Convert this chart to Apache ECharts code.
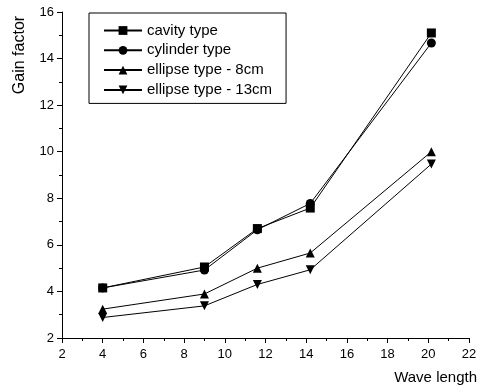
<!DOCTYPE html>
<html>
<head>
<meta charset="utf-8">
<script src="https://cdn.jsdelivr.net/npm/echarts@6/dist/echarts.min.js"></script>
<style>
  html, body { margin: 0; padding: 0; background: #fff; }
  #chart { width: 483px; height: 392px; }
</style>
</head>
<body>
<div id="chart"></div>
<script>
// data
const waveLength = [4, 9, 11.6, 14.2, 20.15];
const cavity = [4.15, 5.05, 6.7, 7.58, 15.1];
const cylinder = [4.15, 4.92, 6.65, 7.78, 14.67];
const ellipse8 = [3.24, 3.89, 5.0, 5.65, 10.0];
const ellipse13 = [2.88, 3.38, 4.3, 4.93, 9.47];

const FONT = "Liberation Sans";

function pairs(ys) {
  return waveLength.map((x, i) => [x, ys[i]]);
}

function makeSeries(name, ys, symbol, rotate) {
  return {
    name: name,
    type: "line",
    data: pairs(ys),
    symbol: symbol,
    symbolSize: 9,
    symbolRotate: rotate || 0,
    lineStyle: { color: "#000", width: 1 },
    itemStyle: { color: "#000" },
    animation: false,
  };
}

const chart = echarts.init(document.getElementById("chart"));

const axisCommon = {
  axisLine: { show: true, lineStyle: { color: "#000", width: 1 } },
  axisTick: { show: true, length: 5, lineStyle: { color: "#000" } },
  minorTick: { show: true, splitNumber: 2, length: 3, lineStyle: { color: "#000" } },
  splitLine: { show: false },
};

chart.setOption({
  backgroundColor: "#fff",
  grid: { left: 62, right: 14, top: 12, bottom: 54 },
  legend: {
    orient: "vertical",
    left: 89,
    top: 13,
    padding: [10, 14, 6, 14],
    borderColor: "#000",
    borderWidth: 1,
    itemWidth: 38,
    itemHeight: 11,
    itemGap: 4.8,
    textStyle: { color: "#000", fontFamily: FONT, fontSize: 15, lineHeight: 15 },
    data: ["cavity type", "cylinder type", "ellipse type - 8cm", "ellipse type - 13cm"],
  },
  xAxis: Object.assign({}, axisCommon, {
    type: "value",
    min: 2,
    max: 22,
    interval: 2,
    axisLabel: { color: "#000", fontFamily: FONT, fontSize: 13, margin: 10 },
    name: "Wave length",
    nameLocation: "end",
    nameGap: 8,
    nameTextStyle: {
      color: "#000", fontFamily: FONT, fontSize: 15,
      align: "right", verticalAlign: "top", padding: [32, 0, 0, 0],
    },
  }),
  yAxis: Object.assign({}, axisCommon, {
    type: "value",
    min: 2,
    max: 16,
    interval: 2,
    axisLabel: { color: "#000", fontFamily: FONT, fontSize: 13, margin: 8 },
  }),
  graphic: [{
    type: "text",
    x: 20,
    y: 55,
    rotation: Math.PI / 2,
    style: {
      text: "Gain factor",
      fill: "#000",
      font: "16px " + FONT,
      align: "center",
      verticalAlign: "middle",
    },
  }],
  series: [
    makeSeries("cavity type", cavity, "rect"),
    makeSeries("cylinder type", cylinder, "circle"),
    makeSeries("ellipse type - 8cm", ellipse8, "triangle"),
    makeSeries("ellipse type - 13cm", ellipse13, "triangle", 180),
  ],
});
</script>
</body>
</html>
